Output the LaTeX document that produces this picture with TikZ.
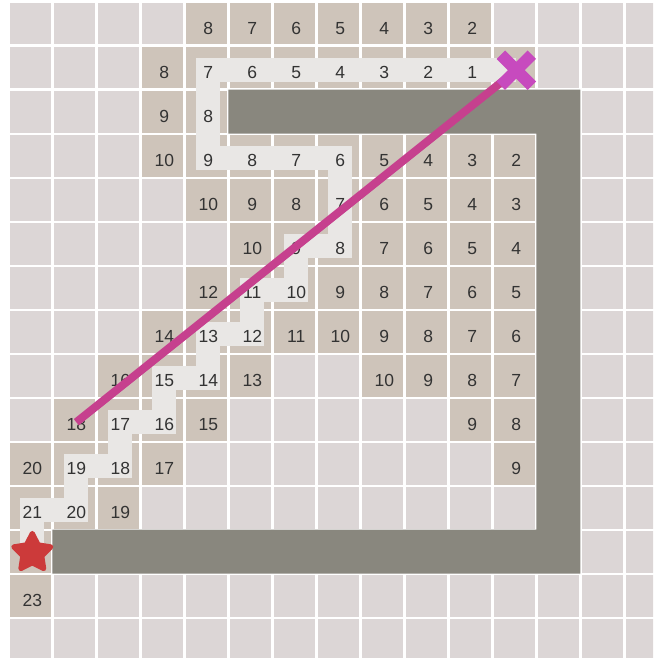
\documentclass[tikz,border=0pt]{standalone}
\usepackage{fontspec}
\setmainfont{Liberation Sans}
\definecolor{cellpink}{RGB}{220,214,214}
\definecolor{celltan}{RGB}{206,196,186}
\definecolor{bandcol}{RGB}{233,231,229}
\definecolor{wallcol}{RGB}{137,135,126}
\definecolor{linemag}{RGB}{198,64,142}
\definecolor{goalmag}{RGB}{199,74,190}
\definecolor{starred}{RGB}{204,58,58}
\definecolor{numtext}{RGB}{51,51,51}
\begin{document}
\begin{tikzpicture}[x=1pt,y=-1pt,
  emptycell/.style={fill=cellpink},
  visitcell/.style={fill=celltan},
  wallshape/.style={fill=wallcol},
  pathband/.style={draw=bandcol, line width=24pt, line join=miter},
  numlabel/.style={inner sep=0pt, outer sep=0pt, text=numtext, font=\fontsize{17.5}{18}\selectfont, yshift=-2.5pt},
  sightline/.style={draw=linemag, line width=8pt},
  goalmark/.style={draw=goalmag, line width=12pt},
  startmark/.style={fill=starred, draw=starred, line width=5pt, line join=round}]
\useasboundingbox (0,0) rectangle (653,658);
\clip (0,0) rectangle (653,658);
\fill[white] (0,0) rectangle (653,658);
% empty cells
\foreach \c in {0,...,14}
  \foreach \r in {0,...,14}
    \fill[emptycell] ({9.5+44*\c},{2.9+44*\r}) rectangle ++(41.6,41.6);
% visited cells
\foreach \r/\a/\b in {0/4/10, 1/3/11, 2/3/4, 3/3/11, 4/4/11, 5/5/11, 6/4/11, 7/3/11, 8/2/5, 8/8/11, 9/1/4, 9/10/11, 10/0/3, 10/11/11, 11/0/2, 12/0/0, 13/0/0}
  \foreach \c in {\a,...,\b}
    \fill[visitcell] ({9.5+44*\c},{2.9+44*\r}) rectangle ++(41.6,41.6);
% wall
\fill[wallshape] (228.3,89.7) -- (580.3,89.7) -- (580.3,573.7) -- (52.3,573.7)
  -- (52.3,529.7) -- (536.3,529.7) -- (536.3,133.7) -- (228.3,133.7) -- cycle;
\begin{scope}[shift={(32.3,26.2)}, x=44pt, y=-44pt]
  \coordinate (goal) at (11,1);
  \coordinate (start) at (0,11.97);
  \coordinate (lend) at (1,9);
  \draw[pathband] (goal) -- (4,1) -- (4,3) -- (7,3) -- (7,5) -- (6,5) -- (6,6)
    -- (5,6) -- (5,7) -- (4,7) -- (4,8) -- (3,8) -- (3,9) -- (2,9) -- (2,10)
    -- (1,10) -- (1,11) -- (0,11) -- (start);
  \foreach \c/\r/\n in {
    4/0/8, 5/0/7, 6/0/6, 7/0/5, 8/0/4, 9/0/3, 10/0/2,
    3/1/8, 4/1/7, 5/1/6, 6/1/5, 7/1/4, 8/1/3, 9/1/2, 10/1/1,
    3/2/9, 4/2/8,
    3/3/10, 4/3/9, 5/3/8, 6/3/7, 7/3/6, 8/3/5, 9/3/4, 10/3/3, 11/3/2,
    4/4/10, 5/4/9, 6/4/8, 7/4/7, 8/4/6, 9/4/5, 10/4/4, 11/4/3,
    5/5/10, 6/5/9, 7/5/8, 8/5/7, 9/5/6, 10/5/5, 11/5/4,
    4/6/12, 5/6/11, 6/6/10, 7/6/9, 8/6/8, 9/6/7, 10/6/6, 11/6/5,
    3/7/14, 4/7/13, 5/7/12, 6/7/11, 7/7/10, 8/7/9, 9/7/8, 10/7/7, 11/7/6,
    2/8/16, 3/8/15, 4/8/14, 5/8/13, 8/8/10, 9/8/9, 10/8/8, 11/8/7,
    1/9/18, 2/9/17, 3/9/16, 4/9/15, 10/9/9, 11/9/8,
    0/10/20, 1/10/19, 2/10/18, 3/10/17, 11/10/9,
    0/11/21, 1/11/20, 2/11/19,
    0/13/23}
    \node[numlabel] (n\c-\r) at (\c,\r) {\n};
\end{scope}
% line of sight
\draw[sightline] (goal) -- (lend);
% goal cross
\draw[goalmark] ([shift={(-15.5,-15.5)}]goal) -- ([shift={(15.5,15.5)}]goal);
\draw[goalmark] ([shift={(-15.5,15.5)}]goal) -- ([shift={(15.5,-15.5)}]goal);
% start star
\filldraw[startmark]
  ([shift={(-90:19.5)}]start) -- ([shift={(-54:10)}]start) --
  ([shift={(-18:19.5)}]start) -- ([shift={(18:10)}]start) --
  ([shift={(54:19.5)}]start) -- ([shift={(90:10)}]start) --
  ([shift={(126:19.5)}]start) -- ([shift={(162:10)}]start) --
  ([shift={(198:19.5)}]start) -- ([shift={(234:10)}]start) -- cycle;
\end{tikzpicture}
\end{document}
